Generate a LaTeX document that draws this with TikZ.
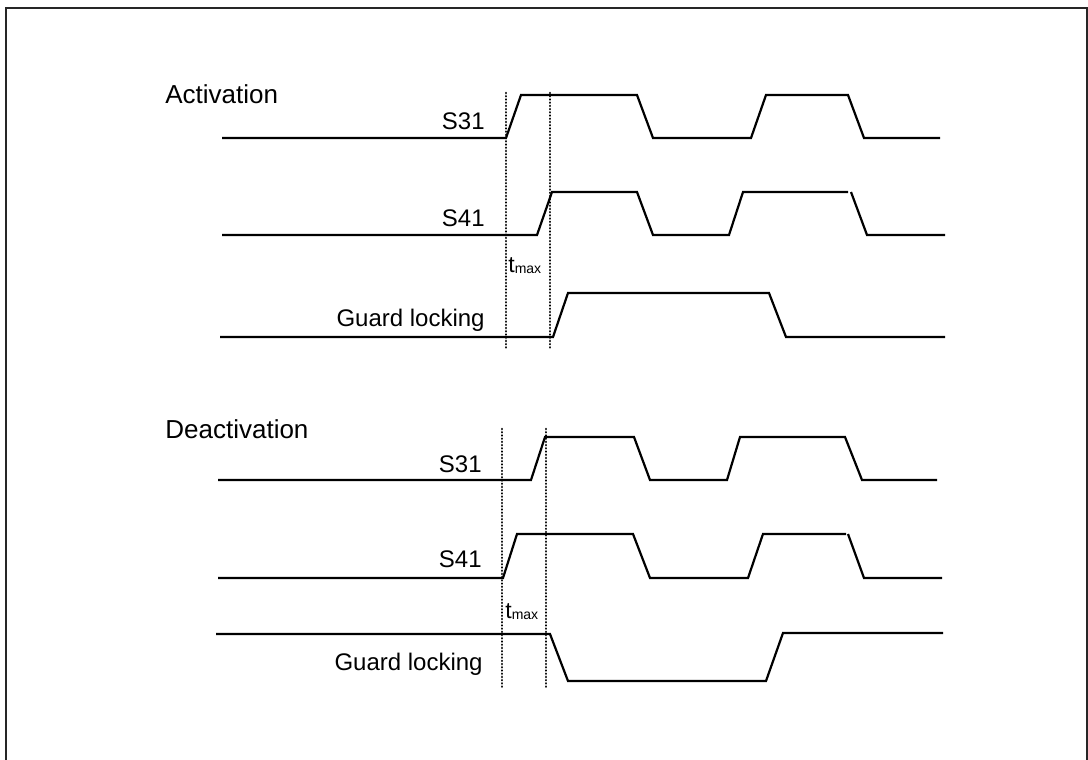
\documentclass[tikz,border=0pt]{standalone}
\usepackage{fontspec}
\setmainfont{Liberation Sans}
\begin{document}
\begin{tikzpicture}[x=0.5pt,y=-0.5pt,
  wave/.style={line width=1.1pt,line join=miter},
  marker/.style={line width=1.3pt,line cap=round,dash pattern=on 0.01pt off 1.6pt},
  sig/.style={inner sep=0pt,anchor=base east,font=\fontsize{12pt}{14pt}\selectfont},
  head/.style={inner sep=0pt,anchor=base west,font=\fontsize{13pt}{15pt}\selectfont},
  tm/.style={inner sep=0pt,anchor=base west,font=\fontsize{11.5pt}{13pt}\selectfont}]
\useasboundingbox (0,0) rectangle (1088,760);
\begin{scope}
\clip (0,0) rectangle (1088,760);
\draw[line width=1pt,black!85] (6,8) rectangle (1087,780);
\end{scope}
% ---------- Activation ----------
\node[head] (hact) at (165,103) {Activation};
\node[sig] (s31a) at (485,129) {S31};
\node[sig] (s41a) at (485,226) {S41};
\node[sig] (gla) at (485,326) {Guard locking};
\node[tm] (tma) at (508,272) {t\raisebox{-0.6pt}{\fontsize{7pt}{8pt}\selectfont max}};
\draw[wave] (222,138) -- (506,138) -- (521,95) -- (637,95) -- (653,138) -- (751,138) -- (766,95) -- (848,95) -- (864,138) -- (940,138);
\draw[wave] (222,235) -- (537,235) -- (552,192) -- (637,192) -- (653,235) -- (729,235) -- (743,192) -- (848,192);
\draw[wave] (851,192) -- (867,235) -- (945,235);
\draw[wave] (220,337) -- (553,337) -- (568,293) -- (769,293) -- (786,337) -- (945,337);
\coordinate (da1t) at (506,93);
\coordinate (da1b) at (506,349);
\coordinate (da2t) at (550,93);
\coordinate (da2b) at (550,349);
\draw[marker] (da1t) -- (da1b);
\draw[marker] (da2t) -- (da2b);
% ---------- Deactivation ----------
\node[head] (hdeact) at (165,438) {Deactivation};
\node[sig] (s31d) at (482,472) {S31};
\node[sig] (s41d) at (482,567) {S41};
\node[sig] (gld) at (483,670) {Guard locking};
\node[tm] (tmd) at (505,618) {t\raisebox{-0.6pt}{\fontsize{7pt}{8pt}\selectfont max}};
\draw[wave] (218,480) -- (531,480) -- (545,437) -- (634,437) -- (650,480) -- (727,480) -- (740,437) -- (845,437) -- (862,480) -- (937,480);
\draw[wave] (218,578) -- (503,578) -- (517,534) -- (633,534) -- (650,578) -- (748,578) -- (763,534) -- (846,534);
\draw[wave] (848,534) -- (864,578) -- (942,578);
\draw[wave] (216,634) -- (550,634) -- (568,681) -- (766,681) -- (783,633) -- (943,633);
\coordinate (dd1t) at (502,429);
\coordinate (dd1b) at (502,687);
\coordinate (dd2t) at (546,429);
\coordinate (dd2b) at (546,687);
\draw[marker] (dd1t) -- (dd1b);
\draw[marker] (dd2t) -- (dd2b);
\end{tikzpicture}
\end{document}
